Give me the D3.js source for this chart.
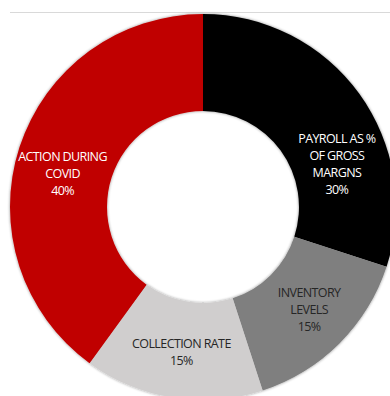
<!DOCTYPE html>
<meta charset="utf-8">
<style>
body { margin: 0; background: #fff; }
.lbl { font: 12.5px "Open Sans", sans-serif; letter-spacing: -0.6px; }
</style>
<body>
<svg width="390" height="396"></svg>
<script src="https://d3js.org/d3.v7.min.js"></script>
<script>
// chart data
var categories = ["PAYROLL AS % OF GROSS MARGNS", "INVENTORY LEVELS", "COLLECTION RATE", "ACTION DURING COVID"];
var labelLines = [["PAYROLL AS %", "OF GROSS", "MARGNS"], ["INVENTORY", "LEVELS"], ["COLLECTION RATE"], ["ACTION DURING", "COVID"]];
var values = [30, 15, 15, 40];
var colors = ["#000000", "#7f7f7f", "#d0cece", "#c00000"];
var textColors = ["#ffffff", "#262626", "#262626", "#ffffff"];

var svg = d3.select("svg"),
    cx = 203, cy = 207,
    outer = 193, inner = 96;

// shadow like the office chart
var defs = svg.append("defs");
var f = defs.append("filter").attr("id", "sh").attr("x", "-10%").attr("y", "-10%").attr("width", "120%").attr("height", "120%");
f.append("feGaussianBlur").attr("in", "SourceAlpha").attr("stdDeviation", 1.5).attr("result", "b");
f.append("feComponentTransfer").attr("in", "b").attr("result", "o2")
  .append("feFuncA").attr("type", "linear").attr("slope", 0.45);
var m = f.append("feMerge");
m.append("feMergeNode").attr("in", "o2");
m.append("feMergeNode").attr("in", "SourceGraphic");

svg.append("line")
    .attr("x1", 10).attr("x2", 390).attr("y1", 12.5).attr("y2", 12.5)
    .attr("stroke", "#d9d9d9").attr("stroke-width", 1);

var g = svg.append("g").attr("transform", "translate(" + cx + "," + cy + ")");

var pie = d3.pie().sort(null).value(function(d) { return d; });
var arc = d3.arc().innerRadius(inner).outerRadius(outer);
var arcs = pie(values);

g.append("g").attr("filter", "url(#sh)")
  .selectAll("path")
  .data(arcs)
  .enter().append("path")
    .attr("d", arc)
    .attr("fill", function(d, i) { return colors[i]; });

// label nudges (excel moved a few of them)
var nudge = [[17, 42], [4, 0], [1, 2], [-3, 11]];
var lineH = 17;

var lbl = g.selectAll(".lbl")
  .data(arcs)
  .enter().append("text")
    .attr("class", "lbl")
    .attr("text-anchor", "middle")
    .attr("fill", function(d, i) { return textColors[i]; })
    .attr("transform", function(d, i) {
      var c = arc.centroid(d);
      return "translate(" + (c[0] + nudge[i][0]) + "," + (c[1] + nudge[i][1]) + ")";
    });

lbl.each(function(d, i) {
  var lines = labelLines[i].concat([d.data + "%"]);
  var t = d3.select(this);
  var top = -(lines.length - 1) * lineH / 2;
  lines.forEach(function(s, k) {
    t.append("tspan").attr("x", 0).attr("y", top + k * lineH).attr("dy", "0.35em").text(s);
  });
});
</script>
</body>
